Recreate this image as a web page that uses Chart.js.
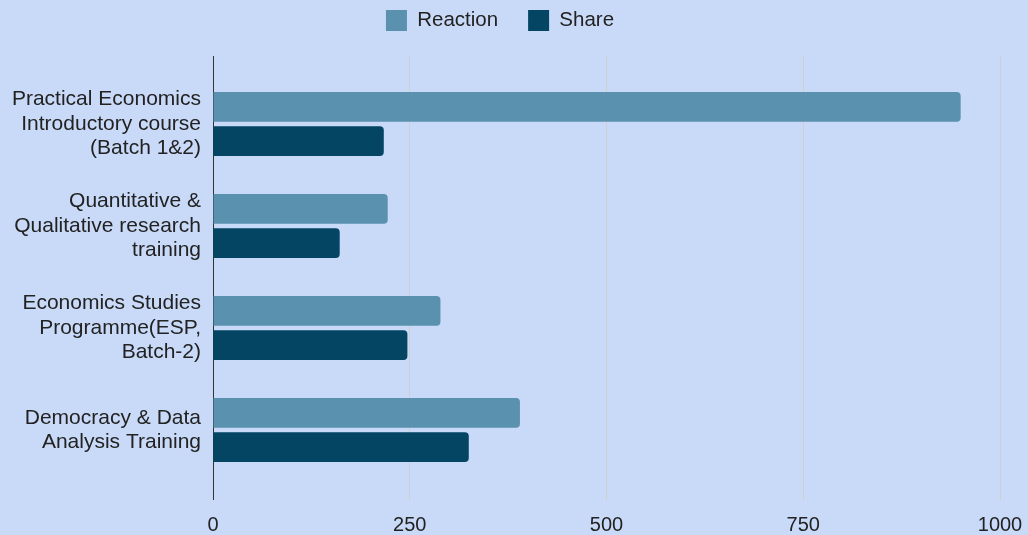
<!DOCTYPE html>
<html>
<head>
<meta charset="utf-8">
<script src="https://cdn.jsdelivr.net/npm/chart.js@4"></script>
<style>
  html, body { margin: 0; padding: 0; background: #c9daf8; }
  #wrap { width: 1028px; height: 535px; }
</style>
</head>
<body>
<div id="wrap"><canvas id="chart"></canvas></div>
<script>
// Programme names, one line of text per entry
const categories = [
  ["Practical Economics", "Introductory course", "(Batch 1&2)"],
  ["Quantitative &", "Qualitative research", "training"],
  ["Economics Studies", "Programme(ESP,", "Batch-2)"],
  ["Democracy & Data", "Analysis Training"]
];
const reactionValues = [950, 222, 289, 390];
const shareValues = [217, 161, 247, 325];
const axisTicks = [0, 250, 500, 750, 1000];

const FONT = "'Liberation Sans', Arial, sans-serif";
const TEXT = "#222222";

new Chart(document.getElementById("chart"), {
  type: "bar",
  data: {
    labels: categories,
    datasets: [
      {
        label: "Reaction",
        data: reactionValues,
        backgroundColor: "#5991ae",
        borderRadius: 4,
        categoryPercentage: 0.67,
        barPercentage: 0.875
      },
      {
        label: "Share",
        data: shareValues,
        backgroundColor: "#034562",
        borderRadius: 4,
        categoryPercentage: 0.67,
        barPercentage: 0.875
      }
    ]
  },
  options: {
    indexAxis: "y",
    responsive: true,
    maintainAspectRatio: false,
    animation: false,
    layout: { padding: { top: -20, right: 28, left: 0, bottom: 0 } },
    plugins: {
      legend: {
        position: "top",
        labels: {
          boxWidth: 21,
          boxHeight: 21,
          padding: 30,
          color: TEXT,
          font: { family: FONT, size: 20.5 }
        }
      },
      tooltip: { enabled: false }
    },
    scales: {
      x: {
        position: "bottom",
        min: axisTicks[0],
        max: axisTicks[axisTicks.length - 1],
        afterBuildTicks: (s) => { s.ticks = axisTicks.map(v => ({ value: v })); },
        afterFit: (s) => { s.height = 54; s.paddingRight = 0; s.paddingLeft = 0; },
        border: { display: false },
        grid: {
          color: (c) => (c.tick && c.tick.value === 0 ? "#333333" : "#cfcfcf"),
          lineWidth: 1,
          drawTicks: true,
          tickLength: 19
        },
        ticks: {
          padding: 13,
          color: TEXT,
          font: { family: FONT, size: 20 },
          callback: (v) => String(v)
        }
      },
      xTop: {
        axis: "x",
        position: "top",
        min: axisTicks[0],
        max: axisTicks[axisTicks.length - 1],
        afterBuildTicks: (s) => { s.ticks = axisTicks.map(v => ({ value: v })); },
        afterFit: (s) => { s.height = 32; s.paddingRight = 0; s.paddingLeft = 0; },
        border: { display: false },
        grid: {
          drawOnChartArea: false,
          color: (c) => (c.tick && c.tick.value === 0 ? "#333333" : "#cfcfcf"),
          drawTicks: true,
          tickLength: 17
        },
        ticks: { display: false }
      },
      y: {
        afterFit: (s) => { s.width = 213; },
        border: { display: false },
        grid: { display: false, drawTicks: false },
        ticks: {
          padding: 12,
          color: TEXT,
          font: { family: FONT, size: 21, lineHeight: 1.17 }
        }
      }
    }
  }
});
</script>
</body>
</html>
